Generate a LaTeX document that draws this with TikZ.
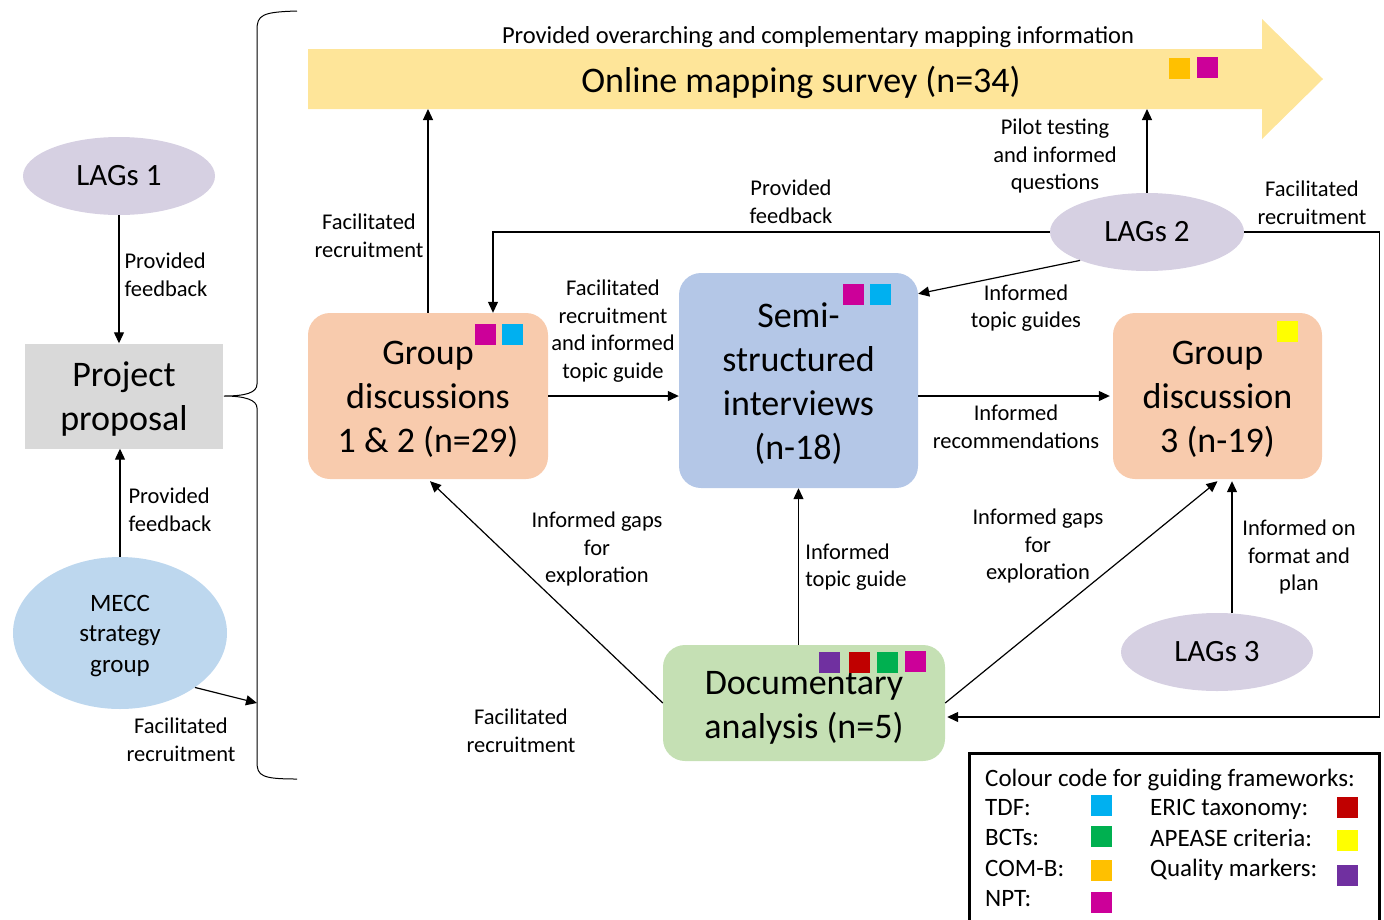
\documentclass[tikz,border=0pt]{standalone}
\usepackage{fontspec}
\setmainfont{Carlito}
\usetikzlibrary{shapes.geometric,arrows.meta,calc}
\definecolor{cyanq}{HTML}{00B0F0}
\definecolor{greenq}{HTML}{00B050}
\definecolor{orangeq}{HTML}{FFC000}
\definecolor{nptq}{HTML}{CC0099}
\definecolor{redq}{HTML}{C00000}
\definecolor{yellowq}{HTML}{FFFF00}
\definecolor{purpleq}{HTML}{7030A0}
\definecolor{arrowfill}{HTML}{FEE599}
\definecolor{lagfill}{RGB}{214,208,226}
\definecolor{meccfill}{HTML}{BDD7EE}
\definecolor{peach}{HTML}{F8CBAD}
\definecolor{semifill}{HTML}{B4C7E7}
\definecolor{docfill}{HTML}{C5E0B4}
\definecolor{propfill}{HTML}{D9D9D9}
\tikzset{
  arr/.style={draw, line width=1.2pt, -{Triangle[length=11pt,width=10pt]}},
  lbl/.style={align=center, font=\fontsize{22.5}{27.6}\selectfont, inner sep=0pt},
  bigbox/.style={rounded corners=22pt, inner sep=0pt},
  bigtext/.style={inner sep=0pt, align=center, font=\fontsize{36}{44}\selectfont},
  lag/.style={ellipse, fill=lagfill, inner sep=0pt, minimum width=193pt, minimum height=78pt, font=\fontsize{31}{36}\selectfont},
  sq/.style={minimum size=21pt, inner sep=0pt},
  leg/.style={anchor=base west, inner sep=0pt, font=\fontsize{25}{30}\selectfont}
}
\begin{document}
\begin{tikzpicture}[x=1pt,y=-1pt]
\useasboundingbox (0,0) rectangle (1384,919);

% Online mapping arrow
\fill[arrowfill] (308,49) -- (1262,49) -- (1262,19) -- (1323,79) -- (1262,139) -- (1262,109) -- (308,109) -- cycle;
\coordinate (OMbot) at (308,109);
\node[font=\fontsize{36}{44}\selectfont, inner sep=0pt] (OM) at (801,82) {Online mapping survey (n=34)};
\node[sq, fill=orangeq] (omsq1) at (1179.5,68) {};
\node[sq, fill=nptq] (omsq2) at (1207.5,67) {};
\node[lbl, font=\fontsize{24.5}{28}\selectfont] (toplbl) at (818,37) {Provided overarching and complementary mapping information};

% Brace
\draw[line width=1pt] (297,11) .. controls (262,12) and (257,15) .. (257,30) -- (257,384) .. controls (257,393) and (245,396) .. (224,396) .. controls (245,396) and (257,400) .. (257,408) -- (257,762) .. controls (257,776) and (262,779) .. (297,779);
\coordinate (bracept) at (257,703);

% Left column
\node[fill=propfill, minimum width=198pt, minimum height=105pt, inner sep=0pt] (PP) at (124,396) {};
\node[bigtext] (PPt) at (124,399) {Project\\proposal};
\node[lag, minimum width=192pt] (L1) at (119,176) {LAGs 1};
\node[ellipse, fill=meccfill, minimum width=214pt, minimum height=152pt, inner sep=0pt] (M) at (120,633) {};
\node[inner sep=0pt, align=center, font=\fontsize{25}{30.5}\selectfont] (Mt) at (120,636) {MECC\\strategy\\group};

\draw[arr] (L1.south) -- (L1.south |- PP.north);
\node[lbl, align=left] (l1lbl) at (166,275) {Provided\\feedback};
\draw[arr] (M.north) -- (M.north |- PP.south);
\node[lbl, align=left] (mlbl) at (170,510) {Provided\\feedback};
\draw[arr] (M.-36) -- (bracept);
\node[lbl] (mlbl2) at (181,740) {Facilitated\\recruitment};

% Main boxes
\node[bigbox, fill=peach, minimum width=240pt, minimum height=166pt] (G1) at (428,396) {};
\node[bigtext] (G1t) at (428,399.5) {Group\\discussions\\1 \& 2 (n=29)};
\node[sq, fill=nptq] (g1sq1) at (485.5,334) {};
\node[sq, fill=cyanq] (g1sq2) at (512.5,334) {};

\node[bigbox, fill=semifill, minimum width=239pt, minimum height=215pt] (S) at (798.5,380.5) {};
\node[bigtext] (St) at (798.5,383.5) {Semi-\\structured\\interviews\\(n-18)};
\node[sq, fill=nptq] (ssq1) at (853.5,294) {};
\node[sq, fill=cyanq] (ssq2) at (880.5,294) {};

\node[bigbox, fill=peach, minimum width=209pt, minimum height=166pt] (G3) at (1217.5,396) {};
\node[bigtext] (G3t) at (1217.5,399.5) {Group\\discussion\\3 (n-19)};
\node[sq, fill=yellowq] (g3sq) at (1287.5,331) {};

\node[bigbox, fill=docfill, minimum width=282pt, minimum height=116pt] (D) at (804,703) {};
\node[bigtext] (Dt) at (804,708) {Documentary\\analysis (n=5)};
\node[sq, fill=purpleq] (dsq1) at (829.5,662) {};
\node[sq, fill=redq] (dsq2) at (859.5,662) {};
\node[sq, fill=greenq] (dsq3) at (887.5,662) {};
\node[sq, fill=nptq] (dsq4) at (915.5,661) {};

\node[lag, minimum width=194pt] (L2) at (1147,232) {LAGs 2};
\node[lag, minimum width=192pt] (L3) at (1217,652) {LAGs 3};

% Connectors
\draw[arr] (G1.north) -- (G1.north |- OMbot);
\node[lbl] (g1lbl) at (369,236) {Facilitated\\recruitment};

\draw[arr] (L2.west) -| ($(G1.north)+(65,0)$);
\node[lbl] (l2lbl1) at (791,202) {Provided\\feedback};

\draw[arr] (L2.203) -- ($(S.north east)+(0,21)$);
\node[lbl] (l2lbl2) at (1026,308) {Informed\\topic guides};

\draw[arr] (L2.north) -- (L2.north |- OMbot);
\node[lbl] (l2lbl3) at (1055,156) {Pilot testing\\and informed\\questions};

\draw[arr] (L2.east) -- ($(L2.east)+(135,0)$) |- ($(D.east)+(2,14)$);
\node[lbl] (l2lbl4) at (1312,203) {Facilitated\\recruitment};

\draw[arr] (G1.east) -- (G1.east -| S.west);
\node[lbl] (g1slbl) at (613,331) {Facilitated\\recruitment\\and informed\\topic guide};

\draw[arr] (S.east |- G3.west) -- ($(G3.west)+(-3,0)$);
\node[lbl] (sg3lbl) at (1016,427) {Informed\\recommendations};

\draw[arr] (S.south |- D.north) -- (S.south);
\node[lbl, align=left] (dslbl) at (856,567) {Informed\\topic guide};

\draw[arr] (D.west) -- ($(G1.south)+(2,2)$);
\node[lbl] (dg1lbl) at (597,549) {Informed gaps\\for\\exploration};

\draw[arr] (D.east) -- ($(G3.south)+(0,2)$);
\node[lbl] (dg3lbl) at (1038,546) {Informed gaps\\for\\exploration};

\draw[arr] ($(L3.north)+(15,0)$) -- ($(G3.south)+(14.5,2)$);
\node[lbl] (l3lbl) at (1299,557) {Informed on\\format and\\plan};

\node[lbl] (botlbl) at (521,731) {Facilitated\\recruitment};

% Legend
\draw[line width=3pt] (969,930) -- (969,753) -- (1379,753) -- (1379,930);
\node[leg] (lg0) at (985,786) {Colour code for guiding frameworks:};
\node[leg] (lg1) at (985,815) {TDF:};
\node[leg] (lg2) at (985,845) {BCTs:};
\node[leg] (lg3) at (985,876) {COM-B:};
\node[leg] (lg4) at (985,906) {NPT:};
\node[leg] (lg5) at (1150,815) {ERIC taxonomy:};
\node[leg] (lg6) at (1150,846) {APEASE criteria:};
\node[leg] (lg7) at (1150,876) {Quality markers:};
\node[sq, fill=cyanq] (lq1) at (1101,805) {};
\node[sq, fill=greenq] (lq2) at (1101,836) {};
\node[sq, fill=orangeq] (lq3) at (1101,870) {};
\node[sq, fill=nptq] (lq4) at (1101,902) {};
\node[sq, fill=redq] (lq5) at (1347,807) {};
\node[sq, fill=yellowq] (lq6) at (1347,840) {};
\node[sq, fill=purpleq] (lq7) at (1347,875) {};
\end{tikzpicture}
\end{document}
